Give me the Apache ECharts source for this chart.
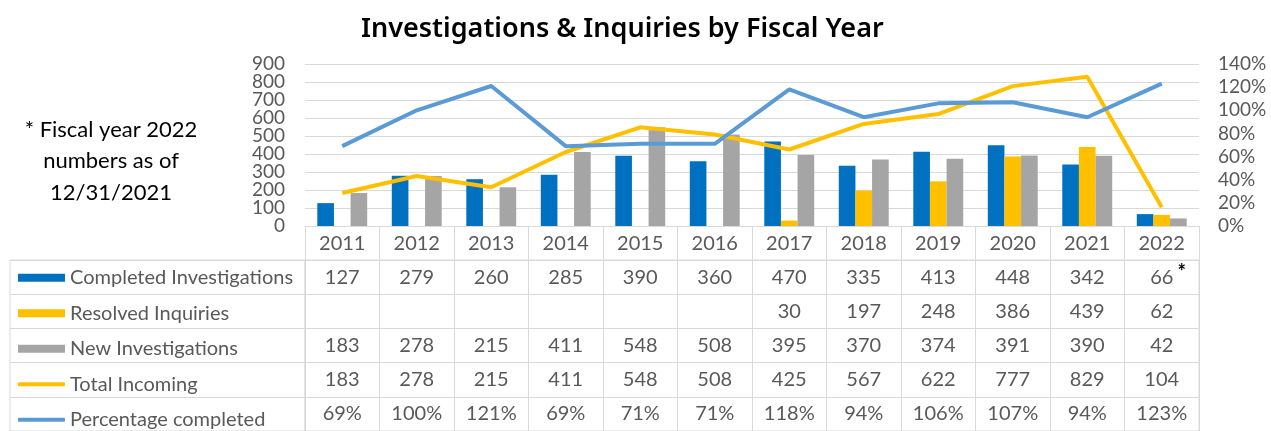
<!DOCTYPE html>
<html>
<head>
<meta charset="utf-8">
<script src="https://cdn.jsdelivr.net/npm/echarts@6/dist/echarts.min.js"></script>
<style>html,body{margin:0;padding:0;background:#fff}#c{width:1271px;height:431px}</style>
</head>
<body>
<div id="c"></div>
<script>
var years = ['2011','2012','2013','2014','2015','2016','2017','2018','2019','2020','2021','2022'];
var completed = [127,279,260,285,390,360,470,335,413,448,342,66];
var resolved = [null,null,null,null,null,null,30,197,248,386,439,62];
var newInv = [183,278,215,411,548,508,395,370,374,391,390,42];
var totalIncoming = [183,278,215,411,548,508,425,567,622,777,829,104];
var pctCompleted = [69,100,121,69,71,71,118,94,106,107,94,123];
var seriesNames = ['Completed Investigations','Resolved Inquiries','New Investigations','Total Incoming','Percentage completed'];
var leftTicks = {min:0, max:900, interval:100};
var rightTicks = {min:0, max:140, interval:20};
var footnoteCell = {row:0, col:11, mark:'*'};
var noteText = '* Fiscal year 2022\nnumbers as of\n12/31/2021';
var titleText = 'Investigations & Inquiries by Fiscal Year';

var C_BLUE = '#0070C0', C_YEL = '#FFC000', C_GRAY = '#A5A5A5', C_LBLUE = '#5B9BD5';
var GRIDC = '#d9d9d9', TXT = '#595959', FONT = 'Lato';
var seriesColors = [C_BLUE, C_YEL, C_GRAY, C_YEL, C_LBLUE];
var isLine = [false, false, false, true, true];

var rows = [completed, resolved, newInv, totalIncoming, pctCompleted];
var cells = [];
rows.forEach(function(arr, r){
  arr.forEach(function(v, c){
    if (v === null || v === undefined) return;
    cells.push({value:[c, r], txt: r === 4 ? (v + '%') : String(v)});
  });
});

var ROWH = 35.5, TABLE_TOP = 260;
var legends = seriesNames.map(function(n, i){
  var center = TABLE_TOP + ROWH * (i + 0.5);
  return {left: 13, top: center - 15, itemWidth: 47, itemHeight: isLine[i] ? 4 : 8,
    selectedMode: false, icon: isLine[i] ? 'roundRect' : 'rect',
    itemStyle: {color: seriesColors[i]},
    textStyle: {fontFamily: FONT, fontSize: 20, color: TXT, lineHeight: 20},
    data: [n]};
});

// left value axis labels split over two coincident axes (even / odd hundreds) so none is auto-hidden
function leftAxis(parity, showSplit){
  return {type: 'value', gridIndex: 0, position: 'left', min: leftTicks.min, max: leftTicks.max, interval: leftTicks.interval,
    axisLine: {show: false}, axisTick: {show: false},
    axisLabel: {margin: 20, fontFamily: FONT, fontSize: 19, color: TXT,
      showMinLabel: true, showMaxLabel: true, hideOverlap: false,
      formatter: function(v){ return (Math.round(v / leftTicks.interval) % 2 === parity) ? String(v) : ''; }},
    splitLine: {show: showSplit, lineStyle: {color: GRIDC}}};
}

var chart = echarts.init(document.getElementById('c'), null, {renderer:'canvas'});
chart.setOption({
  animation: false,
  title: {text: titleText, left: 356, top: 11,
    textStyle: {fontFamily: 'Noto Sans', fontSize: 27, fontWeight: 600, color: '#000'}},
  graphic: [{type:'text', x: 111, y: 114,
    style: {text: noteText, fontFamily: FONT, fontSize: 22, lineHeight: 31.5, fill: '#000', align: 'center'}}],
  legend: legends,
  grid: [
    {left: 305, right: 72, top: 64, bottom: 205},
    {left: 305, right: 72, top: TABLE_TOP, height: ROWH * 5, show: true, borderColor: GRIDC, borderWidth: 1},
    {left: 10, width: 295, top: TABLE_TOP, height: ROWH * 5, show: true, borderColor: GRIDC, borderWidth: 1}
  ],
  xAxis: [
    {type: 'category', gridIndex: 0, data: years,
      axisLine: {lineStyle: {color: GRIDC}},
      axisTick: {show: true, length: 34, lineStyle: {color: GRIDC}},
      axisLabel: {margin: 8, fontFamily: FONT, fontSize: 20, color: TXT}},
    {type: 'category', gridIndex: 1, data: years,
      axisLine: {show: false}, axisTick: {show: false}, axisLabel: {show: false},
      splitLine: {show: true, interval: 0, lineStyle: {color: GRIDC}}},
    {type: 'value', gridIndex: 2, min: 0, max: 1, show: false}
  ],
  yAxis: [
    leftAxis(0, true),
    {type: 'value', gridIndex: 0, position: 'right', min: rightTicks.min, max: rightTicks.max, interval: rightTicks.interval,
      axisLine: {show: false}, axisTick: {show: false}, splitLine: {show: false},
      axisLabel: {margin: 19, fontFamily: FONT, fontSize: 19, color: TXT, formatter: '{value}%',
        showMinLabel: true, showMaxLabel: true, hideOverlap: false}},
    {type: 'category', gridIndex: 1, data: seriesNames, inverse: true,
      axisLine: {show: false}, axisTick: {show: false}, axisLabel: {show: false},
      splitLine: {show: true, interval: 0, lineStyle: {color: GRIDC}}},
    {type: 'category', gridIndex: 2, data: seriesNames, inverse: true,
      axisLine: {show: false}, axisTick: {show: false}, axisLabel: {show: false},
      splitLine: {show: true, interval: 0, lineStyle: {color: GRIDC}}},
    leftAxis(1, false)
  ],
  series: [
    {name: seriesNames[0], type: 'bar', data: completed, itemStyle: {color: C_BLUE}, barGap: '0%', barCategoryGap: '33%'},
    {name: seriesNames[1], type: 'bar', data: resolved, itemStyle: {color: C_YEL}},
    {name: seriesNames[2], type: 'bar', data: newInv, itemStyle: {color: C_GRAY}},
    {name: seriesNames[3], type: 'line', data: totalIncoming, yAxisIndex: 0, symbol: 'none', z: 5,
      itemStyle: {color: C_YEL}, lineStyle: {color: C_YEL, width: 4}},
    {name: seriesNames[4], type: 'line', data: pctCompleted, yAxisIndex: 1, symbol: 'none', z: 5,
      itemStyle: {color: C_LBLUE}, lineStyle: {color: C_LBLUE, width: 4}},
    {type: 'custom', xAxisIndex: 1, yAxisIndex: 2, data: cells, silent: true,
      renderItem: function(params, api){
        var d = cells[params.dataIndex];
        var p = api.coord([api.value(0), api.value(1)]);
        var children = [{type: 'text', style: {text: d.txt, x: p[0], y: p[1], align: 'center', verticalAlign: 'middle',
          fill: TXT, fontFamily: FONT, fontSize: 20}}];
        if (d.value[0] === footnoteCell.col && d.value[1] === footnoteCell.row) {
          children.push({type: 'text', style: {text: footnoteCell.mark, x: p[0] + 20, y: p[1] - 5, align: 'center', verticalAlign: 'middle',
            fill: '#000', fontFamily: FONT, fontSize: 20, fontWeight: 'bold'}});
        }
        return {type: 'group', children: children};
      }}
  ]
});
</script>
</body>
</html>
